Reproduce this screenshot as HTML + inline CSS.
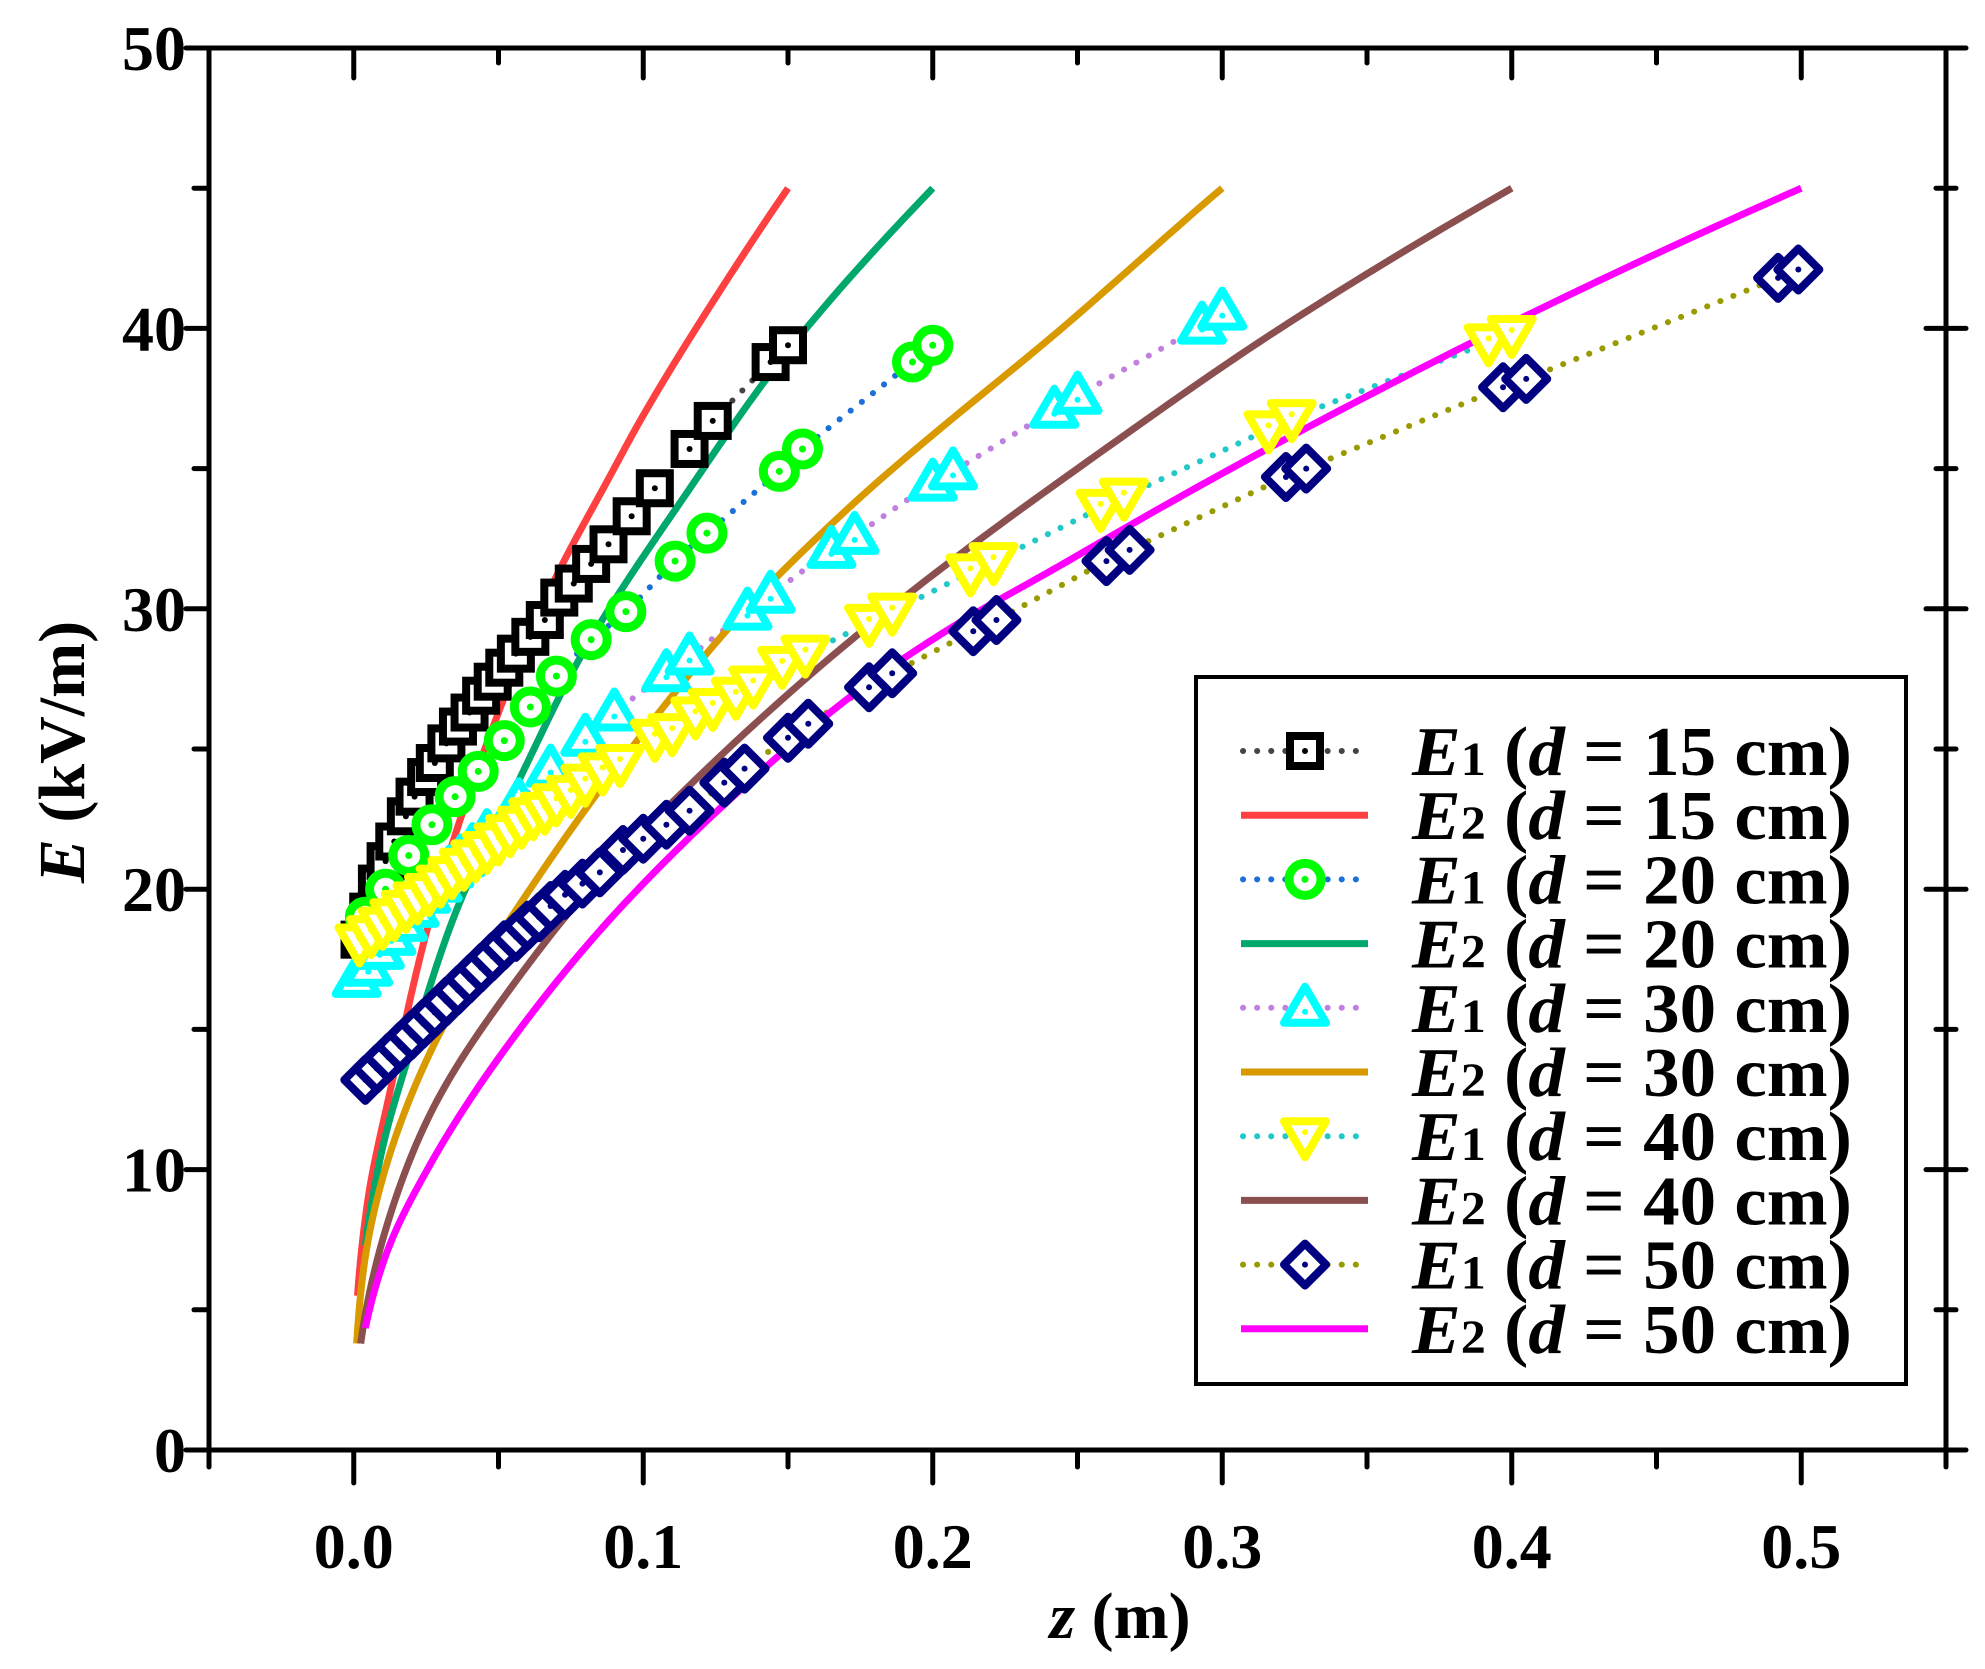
<!DOCTYPE html>
<html><head><meta charset="utf-8"><style>
html,body{margin:0;padding:0;background:#fff;}
svg{display:block;font-family:"Liberation Serif",serif;}
</style></head><body>
<svg id="chart" width="1985" height="1669" viewBox="0 0 1985 1669" xmlns="http://www.w3.org/2000/svg">
<rect x="0" y="0" width="1985" height="1669" fill="#fff"/>
<g id="plot"></g>
<g id="axes"></g>
<text x="1120" y="1638" font-size="66" font-weight="bold" text-anchor="middle"><tspan font-style="italic">z</tspan> (m)</text>
<text transform="translate(84,752) rotate(-90)" font-size="66" font-weight="bold" text-anchor="middle"><tspan font-style="italic">E</tspan> (kV/m)</text>
<g id="legend"></g>
</svg>
<script>
const xTicks=[0.0,0.1,0.2,0.3,0.4,0.5];
const xTickLabels=["0.0","0.1","0.2","0.3","0.4","0.5"];
const yTicks=[0,10,20,30,40,50];
const yTickLabels=["0","10","20","30","40","50"];
const legendLabels=["15","15","20","20","30","30","40","40","50","50"];

const e1z15=[0.002,0.005,0.008,0.011,0.014,0.018,0.021,0.025,0.028,0.032,0.036,0.040,0.044,0.048,0.052,0.056,0.061,0.066,0.071,0.076,0.082,0.088,0.096,0.104,0.116,0.124,0.144,0.150];
const e1v15=[18.2,19.2,20.2,21.0,21.7,22.6,23.3,24.0,24.5,25.2,25.8,26.3,26.9,27.4,27.9,28.4,29.0,29.6,30.4,30.9,31.6,32.3,33.3,34.3,35.7,36.7,38.8,39.4];
const e1z20=[0.004,0.011,0.019,0.027,0.035,0.043,0.052,0.061,0.070,0.082,0.094,0.111,0.122,0.147,0.155,0.193,0.200];
const e1v20=[19.0,20.0,21.2,22.3,23.3,24.2,25.3,26.5,27.6,28.9,29.9,31.7,32.7,34.9,35.7,38.8,39.4];
const e1z30=[0.001,0.005,0.009,0.013,0.017,0.021,0.025,0.029,0.033,0.037,0.041,0.046,0.057,0.068,0.080,0.090,0.108,0.116,0.136,0.144,0.165,0.173,0.200,0.207,0.242,0.250,0.293,0.300];
const e1v30=[16.8,17.2,17.8,18.3,18.8,19.3,19.8,20.2,20.7,21.1,21.5,22.0,23.1,24.3,25.4,26.3,27.7,28.3,29.9,30.5,32.1,32.6,34.5,34.9,37.1,37.6,40.1,40.6];
const e1z40=[0.002,0.006,0.010,0.014,0.018,0.022,0.026,0.030,0.034,0.038,0.042,0.046,0.050,0.054,0.058,0.062,0.066,0.070,0.075,0.080,0.086,0.092,0.104,0.110,0.118,0.124,0.132,0.138,0.148,0.156,0.178,0.186,0.213,0.221,0.258,0.266,0.316,0.324,0.392,0.400];
const e1v40=[18.1,18.4,18.7,19.0,19.3,19.6,19.9,20.2,20.5,20.8,21.1,21.4,21.7,22.0,22.3,22.6,22.8,23.1,23.4,23.8,24.2,24.5,25.4,25.6,26.2,26.5,26.9,27.3,28.0,28.4,29.5,29.9,31.3,31.7,33.6,34.0,36.4,36.8,39.5,39.8];
const e1z50=[0.004,0.008,0.012,0.016,0.020,0.024,0.028,0.032,0.036,0.040,0.044,0.048,0.052,0.056,0.060,0.064,0.068,0.073,0.079,0.085,0.093,0.100,0.108,0.116,0.128,0.135,0.150,0.157,0.178,0.186,0.214,0.222,0.260,0.268,0.322,0.329,0.397,0.405,0.492,0.499];
const e1v50=[13.2,13.6,14.0,14.4,14.8,15.2,15.6,16.0,16.4,16.8,17.2,17.6,18.0,18.3,18.7,19.0,19.4,19.8,20.2,20.6,21.4,21.8,22.3,22.8,23.8,24.3,25.4,25.9,27.2,27.7,29.2,29.6,31.7,32.1,34.7,35.0,37.9,38.2,41.8,42.1];

const e2z15=[0.0013,0.005,0.013,0.0265,0.046,0.066,0.0857,0.1,0.125,0.15];
const e2v15=[5.5,9.0,13.0,19.0,25.2,30.3,34.2,36.9,41.1,45];
const e2z20=[0.004,0.01,0.0197,0.0357,0.0557,0.0795,0.1135,0.15,0.2];
const e2v20=[7.3,10.8,14.3,19.3,23.6,28.5,33.9,39.2,45];
const e2z30=[0.001,0.005,0.0265,0.0557,0.0927,0.132,0.171,0.24,0.3];
const e2v30=[3.8,7.5,14.2,19.2,24.6,29.6,33.6,39.6,45];
const e2z40=[0.0024,0.01,0.0265,0.053,0.0795,0.119,0.172,0.25,0.32,0.4];
const e2v40=[3.8,7.5,12.0,16.3,19.8,24.0,28.9,35.0,40.0,45];
const e2z50=[0.004,0.012,0.0265,0.053,0.0927,0.132,0.172,0.206,0.25,0.33,0.4,0.5];
const e2v50=[4.35,7.2,10.2,14.4,19.4,23.4,26.9,29.3,31.9,36.5,40.2,45];

const NS="http://www.w3.org/2000/svg";
const X0=209,X1=1946,Y0=1450,Y1=48;
function X(z){return X0+(z+0.05)/0.6*(X1-X0);}
function Y(e){return Y0-e/50*(Y0-Y1);}
function mk(tag,attrs,parent){const el=document.createElementNS(NS,tag);for(const k in attrs)el.setAttribute(k,attrs[k]);parent.appendChild(el);return el;}
const plot=document.getElementById('plot'),axes=document.getElementById('axes'),legend=document.getElementById('legend');

function smooth(pts){let d="M"+pts[0][0]+","+pts[0][1];
for(let i=0;i<pts.length-1;i++){const p0=pts[i-1]||pts[i],p1=pts[i],p2=pts[i+1],p3=pts[i+2]||p2;
const c1=[p1[0]+(p2[0]-p0[0])/6,p1[1]+(p2[1]-p0[1])/6],c2=[p2[0]-(p3[0]-p1[0])/6,p2[1]-(p3[1]-p1[1])/6];
d+=" C"+c1[0]+","+c1[1]+" "+c2[0]+","+c2[1]+" "+p2[0]+","+p2[1];}return d;}
// smooth curve interpolated in sqrt(z) space (Catmull-Rom), sampled densely
function sqrtCurve(zs,vs){const u=zs.map(Math.sqrt);let d="";const n=u.length;
for(let i=0;i<n-1;i++){const i0=Math.max(0,i-1),i3=Math.min(n-1,i+2);
 for(let k=0;k<=20;k++){const t=k/20;
  const P=(a0,a1,a2,a3)=>0.5*((2*a1)+(-a0+a2)*t+(2*a0-5*a1+4*a2-a3)*t*t+(-a0+3*a1-3*a2+a3)*t*t*t);
  const uu=P(u[i0],u[i],u[i+1],u[i3]),ee=P(vs[i0],vs[i],vs[i+1],vs[i3]);
  d+=(d?" L":"M")+X(uu*uu).toFixed(2)+","+Y(ee).toFixed(2);}}
return d;}

function marker(type,x,y,color,parent){let el;
if(type==='sq'){el=mk('rect',{x:x-15,y:y-15,width:30,height:30,fill:'#fff',stroke:color,'stroke-width':8},parent);mk('circle',{cx:x,cy:y,r:3,fill:color},parent);}
else if(type==='ci'){el=mk('circle',{cx:x,cy:y,r:16,fill:'#fff',stroke:color,'stroke-width':9},parent);mk('circle',{cx:x,cy:y,r:3.5,fill:color},parent);}
else if(type==='tu'){el=mk('polygon',{points:(x)+","+(y-21)+" "+(x+21)+","+(y+15)+" "+(x-21)+","+(y+15),fill:'#fff',stroke:color,'stroke-width':8,'stroke-linejoin':'round'},parent);mk('circle',{cx:x,cy:y+4,r:3,fill:color},parent);}
else if(type==='td'){el=mk('polygon',{points:(x)+","+(y+21)+" "+(x+21)+","+(y-15)+" "+(x-21)+","+(y-15),fill:'#fff',stroke:color,'stroke-width':8,'stroke-linejoin':'round'},parent);mk('circle',{cx:x,cy:y-4,r:3,fill:color},parent);}
else {el=mk('polygon',{points:x+","+(y-21)+" "+(x+21)+","+y+" "+x+","+(y+21)+" "+(x-21)+","+y,fill:'#fff',stroke:color,'stroke-width':8,'stroke-linejoin':'round'},parent);mk('circle',{cx:x,cy:y,r:3,fill:color},parent);}
return el;}

const series=[
 {kind:1,z:e1z15,v:e1v15,line:'#444444',mc:'#000000',m:'sq',name:'e1-d15'},
 {kind:2,z:e2z15,v:e2v15,line:'#ff4040',name:'e2-d15'},
 {kind:1,z:e1z20,v:e1v20,line:'#1a6fd8',mc:'#00ff00',m:'ci',name:'e1-d20'},
 {kind:2,z:e2z20,v:e2v20,line:'#00a86b',name:'e2-d20'},
 {kind:1,z:e1z30,v:e1v30,line:'#c080e0',mc:'#00ffff',m:'tu',name:'e1-d30'},
 {kind:2,z:e2z30,v:e2v30,line:'#d99a00',name:'e2-d30'},
 {kind:1,z:e1z40,v:e1v40,line:'#20c8c8',mc:'#ffff00',m:'td',name:'e1-d40'},
 {kind:2,z:e2z40,v:e2v40,line:'#8b4f4f',name:'e2-d40'},
 {kind:1,z:e1z50,v:e1v50,line:'#999900',mc:'#000080',m:'di',name:'e1-d50'},
 {kind:2,z:e2z50,v:e2v50,line:'#ff00ff',name:'e2-d50'}
];
series.forEach(s=>{const pts=s.z.map((z,i)=>[X(z),Y(s.v[i])]);
 if(s.kind===1){const p=mk('path',{d:smooth(pts),fill:'none',stroke:s.line,'stroke-width':6,'stroke-dasharray':'0.1 14','stroke-linecap':'round'},plot);
 
 }
});
series.forEach(s=>{if(s.kind!==2)return;
 const p=mk('path',{d:sqrtCurve(s.z,s.v),fill:'none',stroke:s.line,'stroke-width':7,'stroke-linejoin':'round'},plot);
 
 });
series.forEach(s=>{if(s.kind!==1)return;const g=mk('g',{},plot);
 
 
 s.z.forEach((z,i)=>{const m=marker(s.m,X(z),Y(s.v[i]),s.mc,g);
 
 });});

const frame=mk('rect',{x:X0,y:Y1,width:X1-X0,height:Y0-Y1,fill:'none',stroke:'#000','stroke-width':5},axes);


for(let v=-0.05;v<=0.551;v+=0.05){const x=X(v);const major=Math.abs(Math.round(v*10)-v*10)<1e-6;
 mk('line',{x1:x,y1:Y0,x2:x,y2:Y0+(major?33:17),stroke:'#000','stroke-width':5,'stroke-linecap':'round'},axes);
 mk('line',{x1:x,y1:Y1,x2:x,y2:Y1+(major?30:15),stroke:'#000','stroke-width':5,'stroke-linecap':'round'},axes);}
for(let v=0;v<=50;v+=5){const y=Y(v);const major=v%10===0;
 mk('line',{x1:X0-(major?23:15),y1:y,x2:X0,y2:y,stroke:'#000','stroke-width':5,'stroke-linecap':'round'},axes);
 mk('line',{x1:X1-(major?20:10),y1:y,x2:X1+(major?20:10),y2:y,stroke:'#000','stroke-width':5,'stroke-linecap':'round'},axes);}
xTicks.forEach((t,i)=>{const el=mk('text',{x:X(t),y:1568,'font-size':64,'font-weight':'bold','text-anchor':'middle'},axes);el.textContent=xTickLabels[i];
 
 });
yTicks.forEach((t,i)=>{const el=mk('text',{x:186,y:Y(t)+22,'font-size':64,'font-weight':'bold','text-anchor':'end'},axes);el.textContent=yTickLabels[i];
 
 });

const lb=mk('rect',{x:1196,y:677,width:710,height:707,fill:'#fff',stroke:'#000','stroke-width':4},legend);


series.forEach((s,i)=>{const y=751+i*64.2;const g=mk('g',{},legend);
 
 
 if(s.kind===1){mk('line',{x1:1243,y1:y,x2:1368,y2:y,stroke:s.line,'stroke-width':6,'stroke-dasharray':'0.1 14','stroke-linecap':'round'},g);marker(s.m,1305,y,s.mc,g);}
 else mk('line',{x1:1241,y1:y,x2:1368,y2:y,stroke:s.line,'stroke-width':7},g);
 const t=mk('text',{x:1412,y:y+24,'font-size':70,'font-weight':'bold',textLength:440,lengthAdjust:'spacingAndGlyphs'},g);
 t.innerHTML='<tspan font-style="italic">E</tspan><tspan font-size="48">'+s.kind+'</tspan> (<tspan font-style="italic">d</tspan> = '+legendLabels[i]+' cm)';
});
</script>
</body></html>
